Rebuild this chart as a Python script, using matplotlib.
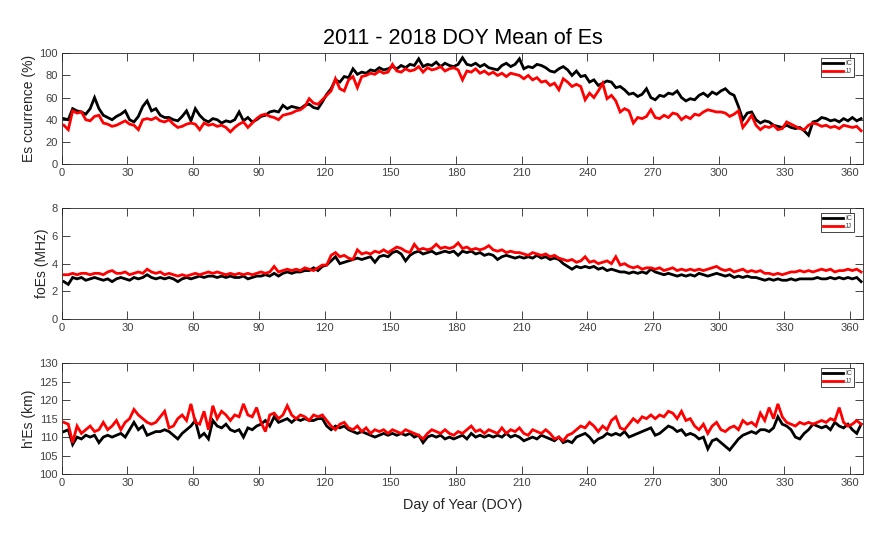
import matplotlib
matplotlib.use("Agg")
import matplotlib.pyplot as plt
import numpy as np

plt.rcParams['font.family'] = ['Liberation Sans', 'DejaVu Sans']

# Day-of-year sample positions (every second day)
doy = list(range(1, 366, 2))

# Es occurrence (%)
occ_ic = [
    41, 40, 50, 48, 47, 45, 50, 60, 50, 44, 42, 40, 43, 45, 48,
    40, 38, 43, 52, 57, 48, 50, 44, 42, 42, 40, 39, 43, 48, 39,
    50, 44, 40, 38, 41, 40, 37, 39, 38, 40, 47, 39, 42, 38, 40,
    43, 44, 47, 48, 47, 53, 50, 52, 51, 50, 53, 54, 51, 50, 56,
    63, 68, 76, 74, 79, 78, 86, 81, 83, 82, 85, 84, 87, 85, 86,
    88, 86, 89, 87, 90, 89, 95, 88, 90, 89, 92, 88, 91, 89, 88,
    90, 96, 90, 89, 91, 88, 90, 87, 86, 85, 89, 91, 88, 90, 95,
    86, 88, 87, 90, 89, 87, 84, 83, 86, 88, 85, 80, 84, 79, 80,
    74, 76, 71, 73, 75, 74, 69, 70, 67, 63, 64, 61, 63, 68, 60,
    58, 62, 61, 64, 63, 66, 60, 57, 59, 58, 62, 64, 61, 65, 63,
    66, 68, 64, 62, 52, 40, 46, 47, 40, 37, 39, 38, 35, 34, 33,
    35, 33, 32, 33, 30, 26, 38, 39, 42, 41, 39, 40, 38, 41, 39,
    42, 39, 41]
occ_jj = [
    35, 31, 48, 46, 47, 40, 39, 43, 44, 37, 36, 34, 35, 37, 39,
    36, 35, 31, 40, 41, 40, 42, 39, 38, 40, 36, 33, 34, 36, 37,
    36, 31, 37, 35, 36, 34, 35, 33, 29, 33, 36, 38, 33, 37, 41,
    44, 45, 43, 42, 40, 44, 45, 46, 48, 49, 52, 59, 55, 54, 58,
    62, 66, 77, 68, 66, 76, 79, 69, 79, 80, 82, 81, 84, 82, 83,
    90, 84, 83, 86, 84, 85, 88, 83, 87, 85, 86, 88, 84, 86, 87,
    85, 76, 84, 83, 86, 82, 84, 81, 83, 80, 82, 79, 82, 81, 80,
    77, 80, 76, 78, 74, 75, 71, 73, 67, 77, 74, 70, 72, 70, 58,
    64, 60, 66, 73, 59, 62, 57, 47, 50, 48, 37, 42, 41, 43, 49,
    42, 41, 44, 42, 46, 45, 40, 43, 41, 45, 44, 47, 49, 48, 47,
    47, 46, 43, 45, 48, 33, 38, 44, 35, 31, 34, 33, 35, 31, 32,
    38, 36, 34, 32, 31, 35, 37, 36, 34, 35, 33, 34, 32, 35, 34,
    33, 34, 30]

# foEs (MHz)
fo_ic = [
    2.7, 2.5, 3.0, 2.9, 3.0, 2.8, 2.9, 3.0, 2.9, 2.8, 2.9, 2.7, 2.9, 3.0, 2.9,
    2.8, 3.0, 2.9, 3.0, 3.2, 3.0, 2.9, 3.0, 2.9, 3.0, 2.9, 2.7, 2.9, 3.0, 2.9,
    3.0, 3.1, 3.0, 3.1, 3.1, 3.0, 3.1, 3.0, 3.1, 3.0, 3.0, 3.1, 2.9, 3.0, 3.1,
    3.1, 3.2, 3.1, 3.3, 3.1, 3.3, 3.4, 3.3, 3.4, 3.4, 3.5, 3.5, 3.7, 3.5, 3.8,
    3.9, 4.2, 4.5, 4.0, 4.1, 4.2, 4.3, 4.4, 4.3, 4.4, 4.5, 4.1, 4.5, 4.6, 4.5,
    4.8, 4.9, 4.7, 4.2, 4.6, 4.8, 4.9, 4.7, 4.8, 4.9, 4.7, 4.8, 4.9, 4.8, 4.9,
    4.6, 4.9, 4.8, 4.9, 4.7, 4.8, 4.6, 4.7, 4.6, 4.3, 4.5, 4.6, 4.5, 4.4, 4.5,
    4.4, 4.5, 4.4, 4.6, 4.4, 4.5, 4.3, 4.4, 4.3, 4.0, 3.8, 3.6, 3.8, 3.7, 3.8,
    3.7, 3.8, 3.6, 3.7, 3.5, 3.6, 3.5, 3.4, 3.4, 3.3, 3.4, 3.3, 3.4, 3.3, 3.6,
    3.4, 3.3, 3.2, 3.3, 3.2, 3.1, 3.2, 3.1, 3.2, 3.1, 3.3, 3.2, 3.1, 3.2, 3.3,
    3.2, 3.1, 3.2, 3.0, 3.1, 3.0, 3.1, 3.0, 3.0, 2.9, 2.8, 2.9, 2.8, 2.9, 2.8,
    2.8, 2.9, 2.8, 2.9, 2.9, 2.9, 2.9, 3.0, 2.9, 2.9, 3.0, 2.9, 3.0, 2.9, 3.0,
    2.9, 3.0, 2.7]
fo_jj = [
    3.2, 3.2, 3.3, 3.2, 3.3, 3.3, 3.2, 3.3, 3.3, 3.2, 3.4, 3.5, 3.3, 3.3, 3.4,
    3.2, 3.3, 3.4, 3.3, 3.6, 3.4, 3.3, 3.4, 3.2, 3.3, 3.2, 3.1, 3.2, 3.1, 3.2,
    3.3, 3.2, 3.3, 3.4, 3.3, 3.4, 3.3, 3.2, 3.3, 3.2, 3.3, 3.2, 3.3, 3.2, 3.3,
    3.4, 3.3, 3.4, 3.8, 3.4, 3.5, 3.6, 3.5, 3.6, 3.5, 3.7, 3.6, 3.5, 3.7, 3.9,
    3.9, 4.6, 4.8, 4.5, 4.6, 4.4, 4.3, 5.0, 4.7, 4.8, 4.7, 4.9, 4.8, 5.0, 4.8,
    5.0, 5.2, 5.1, 4.9, 4.8, 5.4, 5.0, 5.1, 5.0, 5.1, 5.4, 5.1, 5.2, 5.1, 5.2,
    5.5, 5.1, 5.2, 5.0, 5.1, 5.0, 5.1, 5.3, 5.0, 4.9, 5.0, 4.8, 4.9, 4.8, 4.8,
    4.7, 4.6, 4.8, 4.7, 4.6, 4.7, 4.5, 4.6, 4.4, 4.3, 4.2, 4.3, 4.1, 4.2, 4.5,
    4.1, 4.2, 4.0, 4.1, 4.2, 4.0, 4.5, 3.9, 4.0, 3.8, 3.7, 3.8, 3.6, 3.7, 3.7,
    3.6, 3.7, 3.5, 3.6, 3.7, 3.5, 3.6, 3.5, 3.6, 3.5, 3.6, 3.5, 3.6, 3.7, 3.8,
    3.6, 3.5, 3.6, 3.4, 3.5, 3.6, 3.4, 3.5, 3.4, 3.5, 3.3, 3.3, 3.2, 3.3, 3.2,
    3.3, 3.4, 3.4, 3.5, 3.4, 3.5, 3.4, 3.5, 3.6, 3.5, 3.6, 3.4, 3.5, 3.5, 3.6,
    3.5, 3.6, 3.4]

# h'Es (km)
h_ic = [
    111.5, 112, 108, 110, 109.5, 110.5, 110, 110.5, 108.5, 110, 110.5, 110, 110.5, 111, 110,
    112, 114, 112, 113, 110.5, 111, 111.5, 111.5, 112, 111.5, 110.5, 109.5, 111, 112, 113,
    114.5, 110, 111, 109.5, 114.5, 113, 112.5, 113.5, 112, 111.5, 112, 110, 112.5, 112, 113,
    113.5, 114.5, 113, 115.5, 114, 114.5, 115, 114, 115, 114.5, 115, 114.5, 114.5, 115, 115,
    113, 112, 113, 112.5, 113, 112, 111.5, 111, 111.5, 111, 110.5, 110, 110.5, 111, 110.5,
    111, 110.5, 111, 110.5, 111, 110, 110.5, 108.5, 110, 110.5, 110, 110.5, 109.5, 110, 109.5,
    110, 110.5, 109.5, 111, 110, 110.5, 110, 110.5, 110, 110.5, 110, 111, 110, 110.5, 110,
    109, 109.5, 110, 109.5, 110.5, 110, 109.5, 109, 110, 108.5, 109, 108.5, 110, 110.5, 111,
    110, 108.5, 109.5, 110, 111, 110.5, 111, 110.5, 111.5, 110, 110.5, 111, 111.5, 112, 112.5,
    110.5, 111, 112, 113, 112.5, 111.5, 112, 110.5, 111, 110.5, 109.5, 110, 106.8, 109, 109.5,
    108.5, 107.5, 106.5, 108, 109.5, 110.5, 111, 111.5, 111, 112, 112, 111.5, 112.5, 115.5, 113.5,
    113, 112, 110, 109.5, 111, 112, 113.5, 113, 112.5, 113, 112, 114, 113, 112.5, 113.5,
    112, 111, 113.5]
h_jj = [
    114, 113.5, 108.5, 113, 111, 112, 113, 111.5, 112, 114, 112, 113, 114.5, 112, 114,
    115, 117.5, 116, 115, 114, 113.5, 114, 115.5, 117, 112.5, 113, 115, 116, 114.5, 119,
    114, 113.5, 117, 112, 118.5, 115, 117, 116, 114.5, 116, 115.5, 119, 116, 115.5, 118,
    114, 111.5, 116, 116.5, 115, 116, 118.5, 116, 115, 116, 115.5, 114.5, 116, 115.5, 116,
    114.5, 113, 112, 113.5, 114, 112.5, 112, 113, 111.5, 112.5, 111, 112, 111.5, 112, 111,
    112, 111.5, 111, 112, 111.5, 111, 110.5, 109.5, 111, 112, 111.5, 111, 112, 111, 110.5,
    111.5, 111, 112, 113, 111.5, 112, 111, 112, 111.5, 111, 112.5, 111, 112, 111.5, 112.5,
    111, 110.5, 112, 111.5, 111, 112, 111, 109.5, 110, 109, 110.5, 111, 112, 113, 112.5,
    114, 113, 111.5, 113, 112, 114.5, 115.5, 112.5, 112, 113.5, 115, 114, 115.5, 115, 116,
    115, 116, 115.5, 117, 116.5, 115, 117, 114.5, 115, 113, 112, 113.5, 111, 113, 114,
    112, 111.5, 112.5, 113, 112, 114.5, 113.5, 114, 113, 116.5, 114.5, 118, 115, 119, 115.5,
    114, 113.5, 113, 114, 113.5, 114, 113.5, 114, 114.5, 114, 115, 114.5, 118, 114, 113,
    113.5, 114.5, 113.5]

series_labels = ['IC', 'JJ']
series_colors = ['#000000', '#ff0000']
ylabels = ['Es ccurrence (%)', 'foEs (MHz)', "h'Es (km)"]
yticks = [np.arange(0, 101, 20), np.arange(0, 9, 2), np.arange(100, 131, 5)]
xticks = np.arange(0, 361, 30)
panels = [(occ_ic, occ_jj), (fo_ic, fo_jj), (h_ic, h_jj)]

W, H = 883, 534
fig = plt.figure(figsize=(W / 100, H / 100), dpi=100)
left = 61.7 / W
width = (863.3 - 61.7) / W
tops = [53.3, 208.3, 363.3]
bottoms = [164.0, 319.0, 474.0]
gray = '#262626'

axes = []
for i, (top, bot) in enumerate(zip(tops, bottoms)):
    ax = fig.add_axes([left, 1 - bot / H, width, (bot - top) / H])
    for vals, lab, col in zip(panels[i], series_labels, series_colors):
        ax.plot(doy, vals, color=col, lw=2.0, label=lab, solid_joinstyle='miter')
    ax.set_xlim(0, 366)
    ax.set_ylim(yticks[i][0], yticks[i][-1])
    ax.set_yticks(yticks[i])
    ax.set_xticks(xticks)
    ax.tick_params(direction='in', length=5.5, width=0.6, top=True, right=True,
                   labelsize=8, colors=gray, labelcolor='#404040', pad=3)
    for sp in ax.spines.values():
        sp.set_color(gray)
        sp.set_linewidth(0.6)
    ax.set_ylabel(ylabels[i], fontsize=10, color='#262626', labelpad=2)
    leg = ax.legend(loc='upper right', bbox_to_anchor=(1 - 9.0 / 801.6, 1 - 5.0 / 110.7),
                    borderaxespad=0, fontsize=5, handlelength=3.0, handletextpad=0.25,
                    borderpad=0.3, labelspacing=0.1, frameon=True, fancybox=False,
                    edgecolor=gray, framealpha=1)
    leg.get_frame().set_linewidth(0.6)
    for t in leg.get_texts():
        t.set_color('#404040')
    axes.append(ax)

axes[0].set_title('2011 - 2018 DOY Mean of Es', fontsize=15.5, pad=7, color='black')
axes[2].set_xlabel('Day of Year (DOY)', fontsize=10.4, color='#262626', labelpad=7)

fig.savefig('out.png', dpi=100)
